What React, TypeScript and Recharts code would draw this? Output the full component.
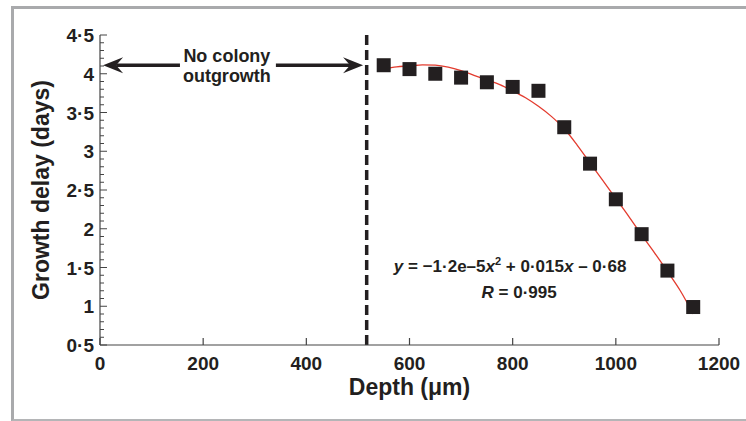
import {
  ComposedChart,
  Line,
  Scatter,
  XAxis,
  YAxis,
  ReferenceLine,
  ReferenceDot,
} from "recharts";

// Growth delay vs depth: measured points, fitted curve, "no colony" zone.

const DEPTH = [550, 600, 650, 700, 750, 800, 850, 900, 950, 1000, 1050, 1100, 1150];
const DELAY = [4.11, 4.06, 4.0, 3.95, 3.89, 3.83, 3.78, 3.31, 2.84, 2.38, 1.93, 1.46, 0.99];

// red fit line
const FIT_DEPTH = [
  550, 575, 600, 625, 650, 675, 700, 725, 750, 775, 800, 825, 850, 875, 900, 925, 950,
  975, 1000, 1025, 1050, 1075, 1100, 1125, 1150,
];
const FIT_DELAY = [
  4.06, 4.09, 4.1, 4.115, 4.11, 4.085, 4.04, 3.98, 3.92, 3.86, 3.78, 3.69, 3.58, 3.45,
  3.29, 3.08, 2.85, 2.62, 2.39, 2.16, 1.92, 1.69, 1.45, 1.2, 0.9,
];

const X_TICKS = [0, 200, 400, 600, 800, 1000, 1200];
const Y_MAJOR = [0.5, 1, 1.5, 2, 2.5, 3, 3.5, 4, 4.5];
const Y_TICKS = Array.from({ length: 41 }, (_, i) => Math.round(5 + i) / 10);

const CUTOFF_DEPTH = 517;
const ARROW_Y = 4.11;
const ARROWS = [
  { from: 155, to: 6 },
  { from: 341, to: 510 },
];
const NOTE_LINES = ["No colony", "outgrowth"];
const NOTE_AT = { depth: 246, delay: 4.11 };
const EQ_AT = { depth: 795, delay: 1.44 };

const INK = "#231f20";
const FONT = "'Liberation Sans', Arial, Helvetica, sans-serif";

const fmt = (v: number) => String(v).replace(".", "·");

const scatterData = DEPTH.map((d, i) => ({ depth: d, delay: DELAY[i] }));
const fitData = FIT_DEPTH.map((d, i) => ({ depth: d, delay: FIT_DELAY[i] }));

function XTick({ x, y, payload }: any) {
  return (
    <g>
      <line x1={x} y1={y} x2={x} y2={y - 7} stroke="#444" strokeWidth={1.2} />
      <text
        x={x}
        y={y + 25}
        textAnchor="middle"
        fontFamily={FONT}
        fontWeight="bold"
        fontSize={19}
        fill={INK}
      >
        {payload.value}
      </text>
    </g>
  );
}

function YTick({ x, y, payload }: any) {
  const v = payload.value;
  const major = Y_MAJOR.some((m) => Math.abs(m - v) < 1e-6);
  return (
    <g>
      <line x1={x} y1={y} x2={x + (major ? 7 : 4)} y2={y} stroke="#444" strokeWidth={1} />
      {major && (
        <text
          x={x - 6}
          y={y + 7}
          textAnchor="end"
          fontFamily={FONT}
          fontWeight="bold"
          fontSize={19}
          fill={INK}
        >
          {fmt(v)}
        </text>
      )}
    </g>
  );
}

function Square({ cx, cy }: any) {
  return <rect x={cx - 7} y={cy - 7} width={14} height={14} fill={INK} />;
}

function Arrow({ x1, y1, x2, y2 }: any) {
  const dir = x2 > x1 ? 1 : -1;
  const notch = x2 - dir * 13;
  return (
    <g>
      <line x1={x1} y1={y1} x2={notch} y2={y2} stroke={INK} strokeWidth={3.5} />
      <polygon
        points={`${x2},${y2} ${x2 - dir * 20},${y2 - 8} ${notch},${y2} ${x2 - dir * 20},${y2 + 8}`}
        fill={INK}
      />
    </g>
  );
}

function Note({ cx, cy }: any) {
  return (
    <text textAnchor="middle" fontFamily={FONT} fontWeight="bold" fontSize={18} fill={INK}>
      <tspan x={cx} y={cy - 3}>{NOTE_LINES[0]}</tspan>
      <tspan x={cx} y={cy + 17}>{NOTE_LINES[1]}</tspan>
    </text>
  );
}

function Equation({ cx, cy }: any) {
  return (
    <g fontFamily={FONT} fontWeight="bold" fontSize={17} fill={INK}>
      <text x={cx} y={cy} textAnchor="middle">
        <tspan fontStyle="italic">y</tspan>
        {" = −1·2e–5"}
        <tspan fontStyle="italic">x</tspan>
        <tspan fontSize={11} dy={-7}>2</tspan>
        <tspan dy={7}>{" + 0·015"}</tspan>
        <tspan fontStyle="italic">x</tspan>
        {" – 0·68"}
      </text>
      <text x={cx + 9} y={cy + 26} textAnchor="middle">
        <tspan fontStyle="italic">R</tspan>
        {" = 0·995"}
      </text>
    </g>
  );
}

export default function App() {
  return (
    <div
      style={{
        position: "absolute",
        left: 0,
        top: 0,
        width: 746,
        height: 421,
        overflow: "hidden",
        background: "#fff",
      }}
    >
      <div
        style={{
          position: "absolute",
          left: 11,
          top: 6,
          width: 735,
          height: 415,
          boxSizing: "border-box",
          borderLeft: "3px solid #a9aaac",
          borderTop: "3px solid #a9aaac",
          borderBottom: "2px solid #b4b5b7",
        }}
      />
      <div style={{ position: "absolute", left: 0, top: 0 }}>
        <ComposedChart
          width={746}
          height={421}
          margin={{ top: 35, right: 27, left: 0, bottom: 0 }}
        >
          <XAxis
            type="number"
            dataKey="depth"
            domain={[0, 1200]}
            ticks={X_TICKS}
            interval={0}
            tickSize={0}
            tickMargin={0}
            tickLine={false}
            tick={<XTick />}
            height={76}
            axisLine={{ stroke: "#444", strokeWidth: 1.2 }}
            label={{
              value: "Depth (μm)",
              position: "insideBottom",
              offset: 26,
              fill: INK,
              fontSize: 23,
              fontWeight: "bold",
              fontFamily: FONT,
            }}
          />
          <YAxis
            type="number"
            dataKey="delay"
            domain={[0.5, 4.5]}
            ticks={Y_TICKS}
            interval={0}
            tickSize={0}
            tickMargin={0}
            tickLine={false}
            tick={<YTick />}
            width={100}
            axisLine={{ stroke: "#444", strokeWidth: 1.2 }}
            label={{
              content: (props: any) => {
                const vb = props.viewBox;
                const cx = vb.x + 41;
                const cy = vb.y + vb.height / 2;
                return (
                  <text
                    x={cx}
                    y={cy}
                    transform={`rotate(-90, ${cx}, ${cy})`}
                    textAnchor="middle"
                    dominantBaseline="central"
                    fontFamily={FONT}
                    fontWeight="bold"
                    fontSize={23}
                    fill={INK}
                  >
                    Growth delay (days)
                  </text>
                );
              },
            }}
          />
          <ReferenceLine
            x={CUTOFF_DEPTH}
            stroke={INK}
            strokeWidth={3.5}
            strokeDasharray="10 5"
          />
          {ARROWS.map((a, i) => (
            <ReferenceLine
              key={i}
              segment={[
                { x: a.from, y: ARROW_Y },
                { x: a.to, y: ARROW_Y },
              ]}
              shape={<Arrow />}
            />
          ))}
          <ReferenceDot
            x={NOTE_AT.depth}
            y={NOTE_AT.delay}
            r={0}
            shape={<Note />}
          />
          <ReferenceDot x={EQ_AT.depth} y={EQ_AT.delay} r={0} shape={<Equation />} />
          <Line
            data={fitData}
            dataKey="delay"
            type="monotone"
            stroke="#e33b2e"
            strokeWidth={1.3}
            dot={false}
            activeDot={false}
            isAnimationActive={false}
          />
          <Scatter
            data={scatterData}
            dataKey="delay"
            shape={<Square />}
            isAnimationActive={false}
          />
        </ComposedChart>
      </div>
    </div>
  );
}
